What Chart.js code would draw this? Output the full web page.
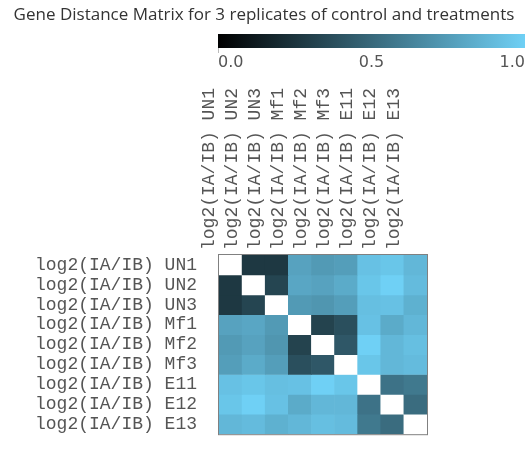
<!DOCTYPE html>
<html>
<head>
<meta charset="utf-8">
<script src="https://cdn.jsdelivr.net/npm/chart.js@4.4.0/dist/chart.umd.min.js"></script>
<style>
  html, body { margin: 0; padding: 0; background: #fff; }
</style>
</head>
<body>
<canvas id="chart" width="527" height="467"></canvas>
<script>
const title = 'Gene Distance Matrix for 3 replicates of control and treatments';
const samples = ['UN1', 'UN2', 'UN3', 'Mf1', 'Mf2', 'Mf3', 'E11', 'E12', 'E13'];
const sampleLabels = samples.map(s => 'log2(IA/IB) ' + s);

// distances, one row per sample (diagonal left blank -> white)
const rowUN1 = [null, 0.27, 0.27, 0.78, 0.74, 0.76, 0.93, 0.95, 0.88];
const rowUN2 = [0.27, null, 0.33, 0.80, 0.78, 0.82, 0.95, 1.00, 0.90];
const rowUN3 = [0.27, 0.33, null, 0.74, 0.72, 0.76, 0.92, 0.93, 0.85];
const rowMf1 = [0.78, 0.80, 0.74, null, 0.32, 0.38, 0.93, 0.82, 0.88];
const rowMf2 = [0.74, 0.78, 0.72, 0.32, null, 0.42, 1.00, 0.88, 0.92];
const rowMf3 = [0.76, 0.82, 0.76, 0.38, 0.42, null, 0.95, 0.88, 0.90];
const rowE11 = [0.93, 0.95, 0.92, 0.93, 1.00, 0.95, null, 0.55, 0.58];
const rowE12 = [0.95, 1.00, 0.93, 0.82, 0.88, 0.88, 0.55, null, 0.52];
const rowE13 = [0.88, 0.90, 0.85, 0.88, 0.92, 0.90, 0.58, 0.52, null];
const rows = [rowUN1, rowUN2, rowUN3, rowMf1, rowMf2, rowMf3, rowE11, rowE12, rowE13];

const colorbarTicks = ['0.0', '0.5', '1.0'];

const lowColor = [0, 0, 0];
const highColor = [111, 208, 245];

function colorFor(v) {
    if (v === null) return '#ffffff';
    const c = lowColor.map((l, i) => Math.round(l + (highColor[i] - l) * v));
    return 'rgb(' + c.join(',') + ')';
}

const datasets = rows.map((row, r) => ({
    label: samples[r],
    data: row.map(() => [r, r + 1]),
    backgroundColor: row.map(colorFor),
    borderWidth: 0,
    barPercentage: 1.0,
    categoryPercentage: 1.0,
}));

const decorations = {
    id: 'decorations',
    afterDraw(chart) {
        const ctx = chart.ctx;
        const a = chart.chartArea;
        ctx.save();
        // frame round the matrix
        ctx.strokeStyle = '#808080';
        ctx.lineWidth = 1;
        ctx.strokeRect(a.left - 0.5, a.top - 0.5, a.width + 1, a.height + 1);

        // title
        ctx.fillStyle = '#333';
        ctx.font = '17px "Open Sans"';
        ctx.textAlign = 'center';
        ctx.textBaseline = 'middle';
        ctx.fillText(title, 264, 15);

        // colour bar
        const x0 = 218, x1 = 525, y0 = 34, y1 = 48;
        const g = ctx.createLinearGradient(x0, 0, x1, 0);
        g.addColorStop(0, colorFor(0));
        g.addColorStop(1, colorFor(1));
        ctx.fillStyle = g;
        ctx.fillRect(x0, y0, x1 - x0, y1 - y0);
        ctx.strokeStyle = '#bbb';
        ctx.beginPath();
        ctx.moveTo(x0 + 0.5, y1);
        ctx.lineTo(x0 + 0.5, y1 + 5);
        ctx.stroke();

        ctx.fillStyle = '#555';
        ctx.font = '16px "DejaVu Sans"';
        ctx.textBaseline = 'middle';
        colorbarTicks.forEach((t, i) => {
            const x = x0 + (x1 - x0) * i / (colorbarTicks.length - 1);
            ctx.textAlign = i === 0 ? 'left' : (i === colorbarTicks.length - 1 ? 'right' : 'center');
            ctx.fillText(t, x, 63);
        });
        ctx.restore();
    }
};

const labelFont = { family: '"Liberation Mono", "Courier New", monospace', size: 18 };

new Chart(document.getElementById('chart').getContext('2d'), {
    type: 'bar',
    data: { labels: sampleLabels, datasets: datasets },
    options: {
        responsive: false,
        animation: false,
        layout: { padding: { left: 0, top: 0, right: 100, bottom: 2 } },
        plugins: {
            legend: { display: false },
            tooltip: { enabled: false },
        },
        scales: {
            x: {
                position: 'top',
                stacked: true,
                grid: { display: false, drawTicks: false },
                border: { display: false },
                ticks: {
                    font: labelFont,
                    color: '#555',
                    minRotation: 90,
                    maxRotation: 90,
                    autoSkip: false,
                    padding: 5,
                },
                afterFit: (scale) => { scale.height = 255; },
            },
            y: {
                display: false,
                min: 0,
                max: 9,
                reverse: true,
            },
            yLabels: {
                type: 'category',
                labels: sampleLabels,
                position: 'left',
                offset: true,
                grid: { display: false, drawTicks: false },
                border: { display: false },
                ticks: {
                    font: labelFont,
                    color: '#555',
                    autoSkip: false,
                    padding: 22,
                },
                afterFit: (scale) => { scale.width = 219; },
            },
        },
    },
    plugins: [decorations],
});
</script>
</body>
</html>
